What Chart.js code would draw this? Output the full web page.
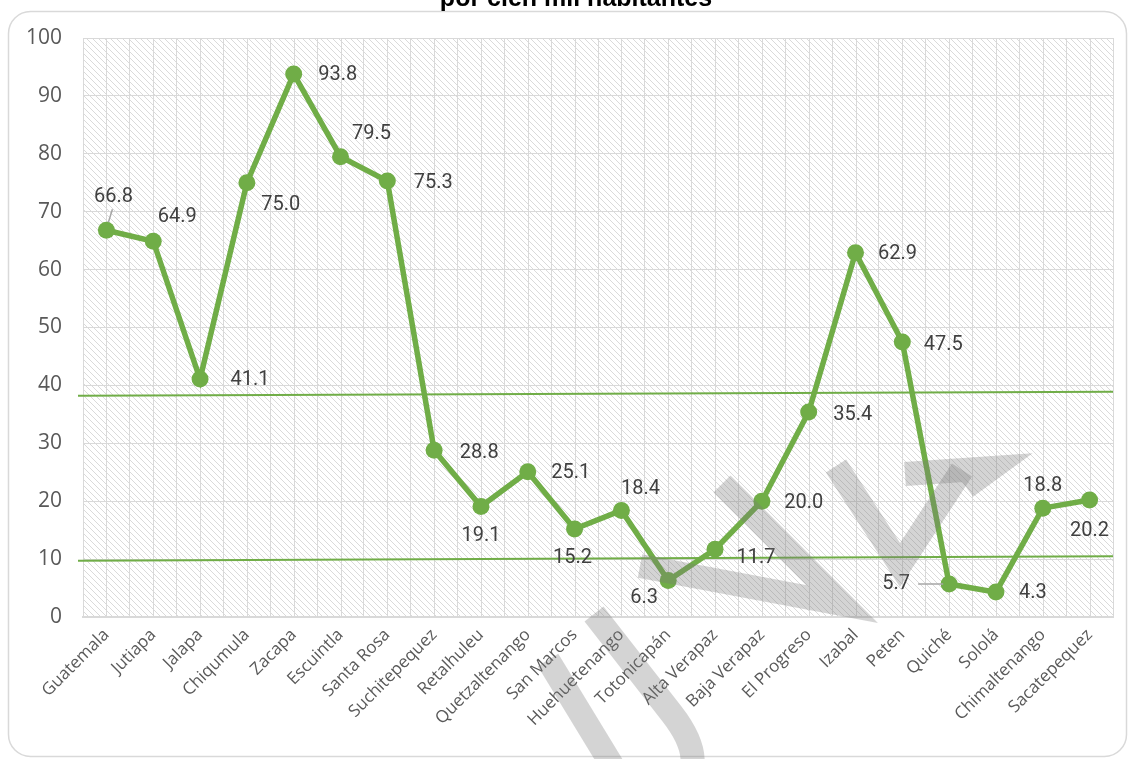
<!DOCTYPE html>
<html>
<head>
<meta charset="utf-8">
<script src="https://cdn.jsdelivr.net/npm/chart.js@4.4.1/dist/chart.umd.min.js"></script>
<style>
  html, body { margin: 0; padding: 0; background: #fff; }
  canvas { display: block; }
</style>
</head>
<body>
<canvas id="tasaDepartamentos" width="1128" height="759"></canvas>
<script>
// datos
var departamentos = ['Guatemala', 'Jutiapa', 'Jalapa', 'Chiqumula', 'Zacapa', 'Escuintla', 'Santa Rosa',
    'Suchitepequez', 'Retalhuleu', 'Quetzaltenango', 'San Marcos', 'Huehuetenango', 'Totonicapán',
    'Alta Verapaz', 'Baja Verapaz', 'El Progreso', 'Izabal', 'Peten', 'Quiché', 'Sololá',
    'Chimaltenango', 'Sacatepequez'];
var tasas = [66.8, 64.9, 41.1, 75.0, 93.8, 79.5, 75.3, 28.8, 19.1, 25.1, 15.2, 18.4, 6.3,
    11.7, 20.0, 35.4, 62.9, 47.5, 5.7, 4.3, 18.8, 20.2];
var yMin = 0, yMax = 100, yPaso = 10;
// lineas de referencia (valor al inicio, valor al final)
var lineaSuperior = [38.2, 38.9];
var lineaInferior = [9.7, 10.5];
var titulo = 'por cien mil habitantes';

// posicion de cada etiqueta respecto a su punto (px)
var etiquetaDesp = [[7, -33], [24, -24], [50, 1], [34, 22], [44, 1], [31, -23], [46, 2],
    [45, 3], [0, 30], [43, 1], [-2, 29], [19, -21], [-24, 17], [41, 9], [42, 2], [44, 3],
    [42, 1], [41, 3], [-53, 0], [37, 1], [0, -22], [0, 31]];
var guias = { 0: [[2, -8], [6, -21]], 18: [[-31, 0], [-6, 0]] };

var verde = '#70AD47';

function patronRayado(ctx) {
    var c = document.createElement('canvas');
    c.width = 6; c.height = 6;
    var p = c.getContext('2d');
    p.strokeStyle = '#dadada';
    p.lineWidth = 1;
    p.beginPath();
    p.moveTo(-1, -1); p.lineTo(7, 7);
    p.moveTo(-4, 2); p.lineTo(4, 10);
    p.moveTo(2, -4); p.lineTo(10, 4);
    p.stroke();
    return ctx.createPattern(c, 'repeat');
}

var fondo = {
    id: 'fondo',
    beforeDraw: function (chart) {
        var ctx = chart.ctx, a = chart.chartArea;
        ctx.save();
        ctx.fillStyle = '#fff';
        ctx.fillRect(0, 0, chart.width, chart.height);
        ctx.strokeStyle = '#d9d9d9';
        ctx.lineWidth = 1.5;
        ctx.beginPath();
        ctx.roundRect(8.5, 11.5, 1118, 745, 22);
        ctx.stroke();
        ctx.fillStyle = '#000';
        ctx.font = 'bold 25px "Liberation Sans"';
        ctx.textAlign = 'center';
        ctx.fillText(titulo, 576, 6);
        ctx.fillStyle = patronRayado(ctx);
        ctx.fillRect(a.left, a.top, a.right - a.left, a.bottom - a.top);
        ctx.restore();
    },
    beforeDatasetsDraw: function (chart) {
        var ctx = chart.ctx, a = chart.chartArea;
        var x = chart.scales.x, y = chart.scales.y;
        ctx.save();
        // lineas de cuadricula en el centro de cada categoria
        ctx.strokeStyle = '#d9d9d9';
        ctx.lineWidth = 1;
        ctx.beginPath();
        for (var i = 0; i < departamentos.length; i++) {
            var px = Math.round(x.getPixelForValue(i)) + 0.5;
            ctx.moveTo(px, a.top);
            ctx.lineTo(px, a.bottom);
        }
        ctx.stroke();
        // lineas verdes de referencia
        ctx.strokeStyle = verde;
        ctx.lineWidth = 2;
        [lineaSuperior, lineaInferior].forEach(function (l) {
            ctx.beginPath();
            ctx.moveTo(a.left - 5, y.getPixelForValue(l[0]));
            ctx.lineTo(a.right, y.getPixelForValue(l[1]));
            ctx.stroke();
        });
        ctx.restore();
    },
    afterDatasetsDraw: function (chart) {
        var ctx = chart.ctx;
        var pts = chart.getDatasetMeta(0).data;
        ctx.save();
        ctx.strokeStyle = '#a6a6a6';
        ctx.lineWidth = 1.5;
        Object.keys(guias).forEach(function (k) {
            var p = pts[k], g = guias[k];
            ctx.beginPath();
            ctx.moveTo(p.x + g[0][0], p.y + g[0][1]);
            ctx.lineTo(p.x + g[1][0], p.y + g[1][1]);
            ctx.stroke();
        });
        ctx.fillStyle = '#404040';
        ctx.font = '20px Roboto';
        ctx.textAlign = 'center';
        ctx.textBaseline = 'middle';
        pts.forEach(function (p, i) {
            ctx.fillText(tasas[i].toFixed(1), p.x + etiquetaDesp[i][0], p.y + etiquetaDesp[i][1]);
        });
        ctx.restore();
    },
    afterDraw: function (chart) {
        // marca de agua
        var ctx = chart.ctx;
        ctx.save();
        ctx.strokeStyle = 'rgba(120,120,120,0.32)';
        ctx.lineWidth = 24;
        ctx.lineCap = 'butt';
        ctx.lineJoin = 'miter';
        // U
        ctx.beginPath();
        ctx.moveTo(548, 660); ctx.lineTo(615, 770);
        ctx.stroke();
        ctx.beginPath();
        ctx.moveTo(594, 614); ctx.lineTo(672, 714);
        ctx.quadraticCurveTo(700, 750, 690, 775);
        ctx.stroke();
        // V
        ctx.beginPath();
        ctx.moveTo(722, 484); ctx.lineTo(842, 604); ctx.lineTo(640, 566);
        ctx.stroke();
        // G
        ctx.beginPath();
        ctx.moveTo(836, 466); ctx.lineTo(900, 565); ctx.lineTo(962, 470);
        ctx.stroke();
        ctx.beginPath();
        ctx.moveTo(905, 474); ctx.lineTo(992, 468); ctx.lineTo(966, 487);
        ctx.stroke();
        ctx.restore();
    }
};

new Chart(document.getElementById('tasaDepartamentos'), {
    type: 'line',
    data: {
        labels: departamentos,
        datasets: [{
            label: 'Tasa',
            data: tasas,
            borderColor: verde,
            backgroundColor: verde,
            borderWidth: 5.5,
            pointRadius: 8.5,
            pointBackgroundColor: verde,
            pointBorderWidth: 0,
            tension: 0
        }]
    },
    options: {
        responsive: false,
        animation: false,
        layout: { padding: { left: 0, top: 38, right: 15, bottom: 0 } },
        plugins: { legend: { display: false }, tooltip: { enabled: false } },
        scales: {
            x: {
                offset: true,
                grid: { offset: true, color: '#d9d9d9', drawTicks: false },
                border: { display: true, color: '#d9d9d9', width: 2 },
                ticks: {
                    autoSkip: false, minRotation: 45, maxRotation: 45, padding: 8,
                    color: '#595959', font: { family: 'Open Sans', size: 17 }
                },
                afterFit: function (s) { s.height = 142; }
            },
            y: {
                min: yMin, max: yMax,
                ticks: { stepSize: yPaso, padding: 21, color: '#595959', font: { family: 'Open Sans', size: 21 } },
                grid: { color: '#d9d9d9', drawTicks: false },
                border: { display: false },
                afterFit: function (s) { s.width = 83; }
            }
        }
    },
    plugins: [fondo]
});
</script>
</body>
</html>
